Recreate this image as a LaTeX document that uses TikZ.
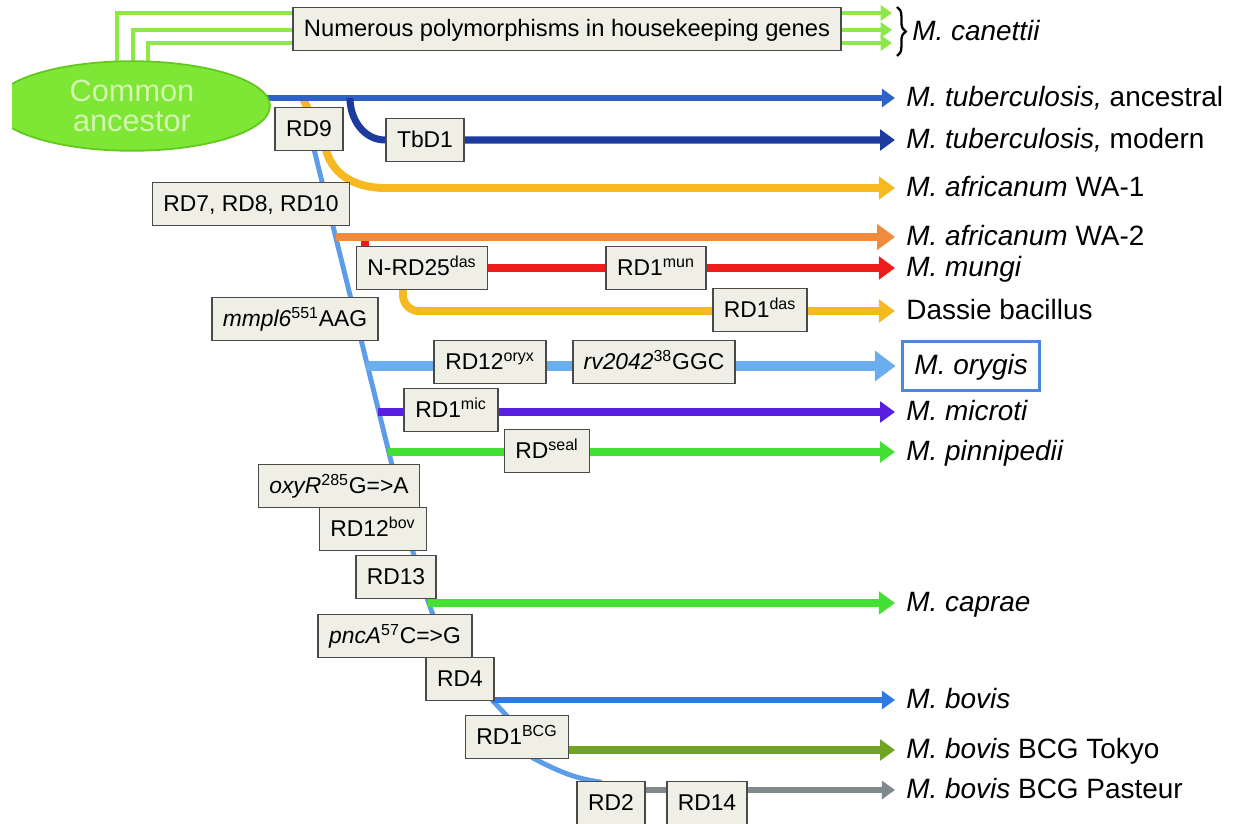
\documentclass[tikz,border=0pt]{standalone}
\usepackage{fontspec}
\setmainfont{Liberation Sans}
\usetikzlibrary{arrows.meta, positioning, shapes.geometric, decorations.pathreplacing}
\definecolor{canecol} {HTML}{8EE84A}
\definecolor{ancfill} {HTML}{7EE635}
\definecolor{ancedge} {HTML}{62C81E}
\definecolor{anctext} {HTML}{D4F4B2}
\definecolor{tbanccol}{HTML}{2E62C6}
\definecolor{tbmodcol}{HTML}{1D3B9E}
\definecolor{afrcol}  {HTML}{F6B91F}
\definecolor{wa2col}  {HTML}{F08B3E}
\definecolor{mungicol}{HTML}{EE1B1B}
\definecolor{orycol}  {HTML}{6BAEF0}
\definecolor{trunkcol}{HTML}{5C9CE8}
\definecolor{miccol}  {HTML}{5A1EE0}
\definecolor{sealcol} {HTML}{45E034}
\definecolor{boviscol}{HTML}{2F7AE0}
\definecolor{tokyocol}{HTML}{6FA320}
\definecolor{pastcol} {HTML}{7E8A8D}
\definecolor{boxfill} {HTML}{EFEFE5}
\definecolor{boxline} {HTML}{4A4A4A}
\definecolor{framecol}{HTML}{4A88DA}
\newcommand{\boxfont}{\fontsize{13}{14}\selectfont}
\newcommand{\polyfont}{\fontsize{13.5}{14}\selectfont}
\newcommand{\taxfont}{\fontsize{15.9}{18}\selectfont}
\newcommand{\ancfont}{\fontsize{17.5}{17}\selectfont}
\pgfdeclarelayer{lines}
\pgfsetlayers{lines,main}
\tikzset{
  mbox/.style={rectangle, draw=boxline, fill=boxfill, line width=0.9pt, minimum height=0.86cm, inner xsep=0.22cm, text height=9.3pt, text depth=1pt, font=\boxfont},
  taxon/.style={anchor=west, inner xsep=0.22cm, inner ysep=1pt, text height=11.5pt, text depth=1.5pt, font=\taxfont},
  branch/.style={line width=#1, -{Triangle[length=2pt 1.6, width=2pt 2.4]}},
  trunkline/.style={line width=2.8pt, trunkcol},
}

\begin{document}
\begin{tikzpicture}[x=0.02cm, y=-0.02cm]
  \useasboundingbox (0,0) rectangle (1242,824);
  % ── common ancestor (cut by the left margin) ─────────────────────
  \begin{scope}
    \clip (12,0) rectangle (300,200);
    \node[ellipse, draw=ancedge, fill=ancfill, line width=1pt, minimum width=5.52cm, minimum height=1.64cm,
          text=anctext, align=center, font=\ancfont] (A) at (132,106) {Common\\ancestor};
  \end{scope}
  % ── mutation boxes ───────────────────────────────────────────────
  \node[mbox, minimum width=10.84cm, font=\polyfont] (M_poly) at (567,29) {Numerous polymorphisms in housekeeping genes};
  \node[mbox] (M_rd9)   at (309,129) {RD9};
  \node[mbox] (M_tbd1)  at (425,140) {TbD1};
  \node[mbox] (M_rd7)   at (251,204) {RD7, RD8, RD10};
  \node[mbox] (M_nrd)   at (422,268) {N-RD25\textsuperscript{das}};
  \node[mbox] (M_mun)   at (656,268) {RD1\textsuperscript{mun}};
  \node[mbox] (M_das)   at (760,310) {RD1\textsuperscript{das}};
  \node[mbox] (M_mmpl)  at (295,319) {\textit{mmpl6}\textsuperscript{551}AAG};
  \node[mbox] (M_oryx)  at (490,362) {RD12\textsuperscript{oryx}};
  \node[mbox] (M_rv)    at (654,362) {\textit{rv2042}\textsuperscript{38}GGC};
  \node[mbox] (M_mic)   at (451,410) {RD1\textsuperscript{mic}};
  \node[mbox] (M_seal)  at (547,451) {RD\textsuperscript{seal}};
  \node[mbox] (M_oxyr)  at (339,486) {\textit{oxyR}\textsuperscript{285}G=>A};
  \node[mbox] (M_bov12) at (373,529) {RD12\textsuperscript{bov}};
  \node[mbox] (M_rd13)  at (396,577) {RD13};
  \node[mbox] (M_pnca)  at (395,636) {\textit{pncA}\textsuperscript{57}C=>G};
  \node[mbox] (M_rd4)   at (460,679) {RD4};
  \node[mbox] (M_bcg)   at (517,737) {RD1\textsuperscript{BCG}};
  \node[mbox] (M_rd2)   at (611,803) {RD2};
  \node[mbox] (M_rd14)  at (707,803) {RD14};
  % ── taxa ─────────────────────────────────────────────────────────
  \node[taxon] (L_can) at (901,32)  {\textit{M. canettii}};
  \node[taxon] (L_anc) at (895,98)  {\textit{M. tuberculosis,} ancestral};
  \node[taxon] (L_mod) at (895,140) {\textit{M. tuberculosis,} modern};
  \node[taxon] (L_wa1) at (895,188) {\textit{M. africanum} WA-1};
  \node[taxon] (L_wa2) at (895,237) {\textit{M. africanum} WA-2};
  \node[taxon] (L_mun) at (895,268) {\textit{M. mungi}};
  \node[taxon] (L_das) at (895,311) {Dassie bacillus};
  \node[taxon, draw=framecol, line width=1.7pt, minimum height=0.98cm, inner xsep=0.24cm] (L_ory) at (901,366) {\textit{M. orygis}};
  \node[taxon] (L_mic) at (895,412) {\textit{M. microti}};
  \node[taxon] (L_pin) at (895,452) {\textit{M. pinnipedii}};
  \node[taxon] (L_cap) at (895,603) {\textit{M. caprae}};
  \node[taxon] (L_bov) at (895,700) {\textit{M. bovis}};
  \node[taxon] (L_tok) at (895,750) {\textit{M. bovis} BCG Tokyo};
  \node[taxon] (L_pas) at (895,790) {\textit{M. bovis} BCG Pasteur};
  % ── branch points ────────────────────────────────────────────────
  \coordinate (B_tb)  at (350,98);
  \coordinate (B_wa1) at (303,98);
  \coordinate (B_wa2) at (336,237);
  \coordinate (B_mun) at (365,237);
  \coordinate (B_ory) at (366,366);
  \coordinate (B_mic) at (378,412);
  \coordinate (B_pin) at (388,452);
  \coordinate (B_cap) at (428,603);
  \coordinate (B_bov) at (492,700);
  \coordinate (C_top) at (897,7);
  \coordinate (C_bot) at (897,56);

  \begin{pgfonlayer}{lines}
    % ── canettii: three lines round the housekeeping box ─────────────
    \foreach \dx/\yy [count=\i] in {-15/13, 1/30, 16/43} {
      \coordinate (C\i) at (892,\yy);
      \draw[branch=2.8pt, canecol] ([xshift=\dx*0.02cm]A.center) |- (C\i);
    }
    % ── tuberculosis lineages ─────────────────────────────────────────
    \draw[branch=4.5pt, afrcol] (B_wa1) -- (326,150) to[out=-75, in=180] (385,188) -- (L_wa1.west);
    \draw[branch=3.4pt, tbanccol] (A.center |- L_anc.west) -- (L_anc.west);
    \draw[branch=4pt, tbmodcol] (B_tb) to[out=-90, in=180] (M_tbd1.west) -- (L_mod.west);
    % ── main trunk ───────────────────────────────────────────────────
    \draw[trunkline] (M_rd9.center) -- (392,465) -- (413,552) -- (427,598) -- (433,615)
      -- (493,701) -- (507,716) -- (533,758) .. controls (565,775) and (580,779) .. (600,782) -- (M_rd2.center);
    % ── side branches ────────────────────────────────────────────────
    \draw[mungicol, line width=4.5pt] (B_mun) -- (B_mun |- M_nrd.north);
    \draw[branch=5.1pt, wa2col] (B_wa2) -- (L_wa2.west);
    \draw[branch=4.5pt, mungicol] (M_nrd.center) -- (L_mun.west);
    \draw[branch=4.5pt, afrcol, rounded corners=9pt] ([xshift=-0.38cm]M_nrd.center) |- (L_das.west);
    \draw[branch=6.2pt, orycol, shorten >=3pt] (B_ory) -- (L_ory.west);
    \draw[branch=4pt, miccol] (B_mic) -- (L_mic.west);
    \draw[branch=4pt, sealcol] (B_pin) -- (L_pin.west);
    \draw[branch=4.5pt, sealcol] (B_cap) -- (L_cap.west);
    \draw[branch=3.4pt, boviscol] (B_bov) -- (L_bov.west);
    \draw[branch=4pt, tokyocol] (M_bcg.center |- L_tok.west) -- (L_tok.west);
    \draw[branch=3.4pt, pastcol] (M_rd2.center |- L_pas.west) -- (L_pas.west);
  \end{pgfonlayer}
  % ── brace for canettii ───────────────────────────────────────────
  \draw[line width=1.3pt, decorate, decoration={brace, amplitude=5pt}] (C_top) -- (C_bot);
\end{tikzpicture}
\end{document}
